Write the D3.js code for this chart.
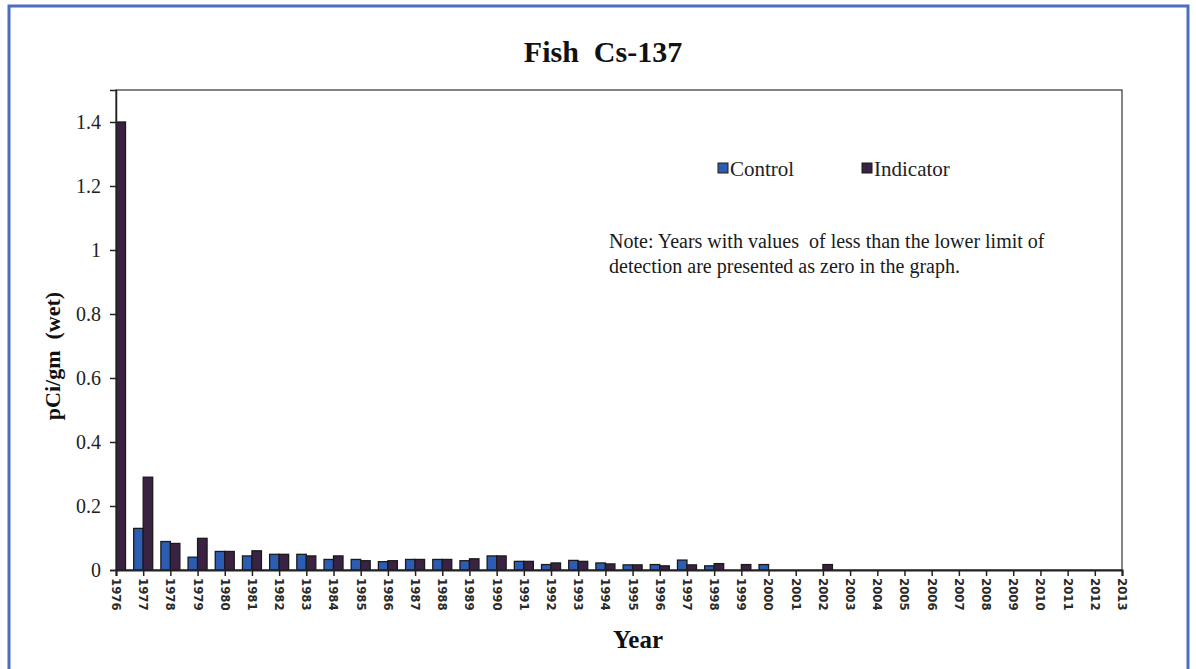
<!DOCTYPE html>
<html><head><meta charset="utf-8">
<script src="https://cdn.jsdelivr.net/npm/d3@7"></script>
<style>body{margin:0;background:#fff}
.xt text{font-family:"DejaVu Sans Condensed","Liberation Sans Narrow","DejaVu Sans",sans-serif;font-stretch:condensed;}
</style>
</head><body>
<svg id="c" width="1196" height="669"></svg>
<script>
const years = d3.range(1976, 2014).map(String);
const control = [0,0.13,0.089,0.04,0.058,0.044,0.049,0.049,0.033,0.033,0.026,0.033,0.033,0.029,0.044,
  0.027,0.017,0.030,0.022,0.016,0.017,0.031,0.013,0,0.017,0,0,0,0,0,0,0,0,0,0,0,0,0];
const indicator = [1.40,0.29,0.083,0.099,0.058,0.06,0.049,0.044,0.044,0.029,0.029,0.033,0.033,0.035,0.044,
  0.027,0.022,0.027,0.019,0.016,0.013,0.016,0.020,0.017,0,0,0.017,0,0,0,0,0,0,0,0,0,0,0];
const yTicks = [0,0.2,0.4,0.6,0.8,1,1.2,1.4];
const seriesNames = ["Control","Indicator"];
const colors = ["#2c5db3","#3a2242"];

const svg = d3.select("#c");
const L=116,R=1122,T=90,B=570;
// outer frame
svg.append("path").attr("d","M9,669 V6 H1188 V669").attr("fill","none").attr("stroke","#4a6fc0").attr("stroke-width",3);

const x = d3.scalePoint().domain(years).range([L,R]);
const y = d3.scaleLinear().domain([0,1.5]).range([B,T]);
const bw = 9.5;

// plot border
svg.append("rect").attr("x",L).attr("y",T).attr("width",R-L).attr("height",B-T)
  .attr("fill","none").attr("stroke","#333").attr("stroke-width",1.2);

const defs = svg.append("defs");
defs.append("clipPath").attr("id","pc").append("rect").attr("x",L).attr("y",T-2).attr("width",R-L+2).attr("height",B-T+2);
const g = svg.append("g").attr("clip-path","url(#pc)");
[control,indicator].forEach((vals,si)=>{
  g.selectAll(null).data(years.map((yr,i)=>({yr,v:vals[i]})).filter(d=>d.v>0)).enter().append("rect")
    .attr("x",d=>x(d.yr)+(si===0?-bw:0)).attr("width",bw)
    .attr("y",d=>y(d.v)).attr("height",d=>B-y(d.v))
    .attr("fill",colors[si]).attr("stroke","#1a1a1a").attr("stroke-width",1.3);
});

// axes
const yAx = svg.append("g").attr("transform",`translate(${L},0)`)
  .call(d3.axisLeft(y).tickValues(yTicks).tickFormat(d=>String(d)).tickSize(6).tickPadding(9));
yAx.select(".domain").attr("stroke","#222").attr("stroke-width",1.5);
yAx.selectAll("line").attr("stroke","#222").attr("stroke-width",1.5);
yAx.selectAll("text").attr("font-family","Liberation Serif").attr("font-size",20).attr("fill","#222");

const xAx = svg.append("g").attr("class","xt").attr("transform",`translate(0,${B})`)
  .call(d3.axisBottom(x).tickSize(6).tickPadding(0));
xAx.attr("font-family",null);
xAx.select(".domain").attr("stroke","#222").attr("stroke-width",2);
xAx.selectAll("line").attr("stroke","#222").attr("stroke-width",1.5);
xAx.selectAll("text").attr("font-size",13).attr("font-weight","bold").attr("fill","#2a2a2a")
  .attr("transform","translate(0,8) rotate(90)").attr("text-anchor","start").attr("dy","0.35em").attr("y",0).attr("x",0);

// title & labels
svg.append("text").attr("x",603).attr("y",62).attr("text-anchor","middle")
  .attr("font-family","Liberation Serif").attr("font-weight","bold").attr("font-size",30).attr("fill","#111").attr("xml:space","preserve").text("Fish  Cs-137");
svg.append("text").attr("transform","translate(60,356) rotate(-90)").attr("text-anchor","middle")
  .attr("font-family","Liberation Serif").attr("font-weight","bold").attr("font-size",22).attr("fill","#111").attr("xml:space","preserve").text("pCi/gm  (wet)");
svg.append("text").attr("x",638).attr("y",648).attr("text-anchor","middle")
  .attr("font-family","Liberation Serif").attr("font-weight","bold").attr("font-size",25).attr("fill","#111").text("Year");

// legend
const lx=[718,862];
seriesNames.forEach((n,i)=>{
  svg.append("rect").attr("x",lx[i]).attr("y",163).attr("width",10).attr("height",10).attr("fill",colors[i]).attr("stroke","#1a1a1a");
  svg.append("text").attr("x",lx[i]+12).attr("y",176).attr("font-family","Liberation Serif").attr("font-size",21).attr("fill","#222").text(n);
});
// note
svg.append("text").attr("x",609).attr("y",248).attr("font-family","Liberation Serif").attr("font-size",20).attr("fill","#1a1a1a").attr("xml:space","preserve")
  .text("Note: Years with values  of less than the lower limit of");
svg.append("text").attr("x",609).attr("y",273).attr("font-family","Liberation Serif").attr("font-size",20).attr("fill","#1a1a1a")
  .text("detection are presented as zero in the graph.");
</script>
</body></html>
